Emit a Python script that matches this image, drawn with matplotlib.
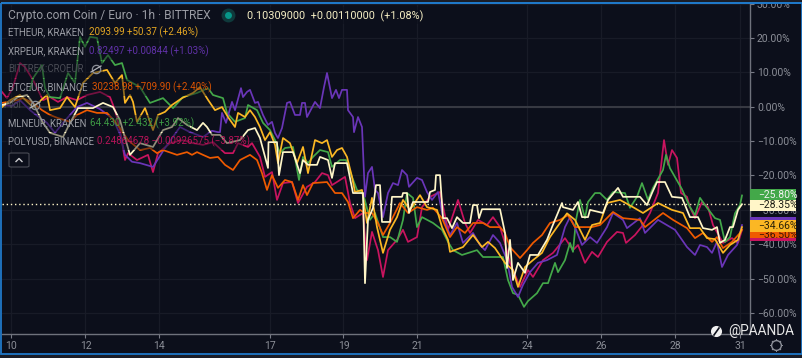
import matplotlib
matplotlib.use('Agg')
import matplotlib.pyplot as plt
from matplotlib.patches import Rectangle, FancyBboxPatch
from matplotlib.lines import Line2D

plt.rcParams['font.family'] = ['Roboto', 'DejaVu Sans']

# (bar position on the time axis, % change)
xrp = [(2,0.5),(12,0.2),(20,1.9),(30,-1.0),(40,-3.3),(47,-4.7),(55,-7.6),(63,-4.7),(77,-0.1),(87,1.1),(100,-0.7),(113,-3.5),(120,-8),(125,-14.0),(132,-16),(140,-16.4),(153,-17.5),(165,-12),(180,-5.9),(190,-7.4),(203,-8.8),(212,-7),(218,-7.4),
       (220,-7.4),(222,-1.8),(226,-4.7),(232,1.4),(235,-1.0),(241,5.4),(243,2.8),(247,4.3),(250,4.9),(255,1.1),(258,1.4),(263,-2.4),(268,-5.3),(272,-4.4),(275,-7.6),(278,-9.1),(282,-6.2),(287,1.1),(290,1.4),(295,-2.4),(300,-2.4),(302,1.1),(305,1.1),(307,-3.0),(315,1.4),(320,-0.4),(324,5.7),(327,9.8),(332,2.5),(336,4.9),(339,2.5),(342,4.9),(347,4.9),(348,-1.0),(353,-3.0),(354,-7.4),(358,-3.0),(362,-5.9),
       (365,-26.2),(368,-19.3),(372,-17.5),(375,-24.2),(378,-25.1),(383,-32.1),(388,-25.1),(393,-22.2),(398,-22.8),(402,-18.4),(407,-19.9),(409,-23.3),(417,-20.7),(422,-21.3),(427,-24.8),(432,-27.1),(438,-24.8),(443,-32.1),(450,-37.3),(457,-33.8),(463,-39.6),(473,-36.7),(480,-40.2),(485,-41.7),(493,-37.3),(500,-39.6),(507,-44.6),(512,-52.4),(518,-55.3),(523,-51.8),(530,-48.1),(538,-45.4),(547,-44.6),(557,-43.1),(565,-35.0),(570,-32.1),(575,-35.0),(582,-40.2),(590,-37.9),(597,-39.6),(607,-35.0),(613,-30.9),(623,-32.9),(627,-35.3),(640,-32.4),(645,-36.7),(658,-32.9),(675,-35.8),(687,-40.8),(695,-43.1),(700,-40.2),(707,-40.8),(712,-42.5),(717,-39.3),(722,-46.6),(728,-43.1),(737,-40.2),(742,-34.4)]

btc = [(2,1.1),(17,1.9),(23,2.5),(33,1.1),(42,-1.0),(50,-2.4),(58,-3.3),(70,-4.4),(77,-2.4),(87,-1.0),(97,-1.8),(107,-1.8),(115,-4.4),(120,-6.2),(128,-9.7),(140,-12.6),(150,-12),(157,-13.5),(163,-12.6),(177,-14),(187,-13.2),(192,-14),(197,-13.2),(203,-14),(210,-14.9),(218,-14.6),(225,-16.9),(233,-18.4),(240,-15.5),(250,-14),(257,-15.5),(262,-19.3),(267,-24.2),(272,-19.9),(278,-23.6),(285,-21.3),(292,-21.9),(298,-27.1),(303,-22.8),(307,-25.7),(313,-22.2),(327,-21.9),(335,-25.1),(342,-25.1),(348,-27.7),(353,-32.4),(360,-30),(365,-30.9),(372,-30.9),(378,-33.8),(383,-37.3),(390,-33.8),(400,-28),(408,-30.9),(417,-29.2),(427,-30),(433,-29.4),(442,-32.4),(450,-37.9),(457,-35),(465,-36.7),(473,-33.8),(483,-33.8),(490,-35),(500,-35),(505,-36.7),(510,-40.8),(520,-44),(527,-41.7),(533,-39.6),(542,-37.3),(550,-33.8),(560,-32.9),(568,-31.5),(575,-35),(585,-35),(592,-35),(600,-34.4),(613,-30.6),(623,-32.4),(640,-32.9),(645,-35),(663,-30.9),(673,-32.9),(687,-35.3),(695,-38.2),(703,-36.7),(712,-39.3),(717,-37.9),(723,-41.1),(732,-39.3),(740,-36.7),(742,-35.8)]

eth = [(2,-0.1),(10,1.9),(20,3.4),(33,-0.1),(47,3.4),(50,-1.0),(60,-0.4),(67,2.8),(75,-0.1),(83,6.9),(93,9.8),(107,10.7),(115,6.9),(122,9.2),(125,1.1),(130,3.4),(133,1.4),(137,-4.4),(145,-0.4),(153,-6.8),(158,-2.4),(165,-1.5),(172,0.5),(182,2.5),(193,4.0),(200,5.7),(208,2.0),(215,-1.0),(222,-0.1),(228,-3.0),(235,-5.9),(238,-1.8),(245,-3.0),(250,-1.0),(255,-3.0),(260,-5.9),(265,-9.7),(270,-7.4),(275,-11.1),(278,-16.4),(283,-9.1),(290,-10.6),(297,-16.4),(303,-11.7),(308,-19.3),(315,-9.7),(322,-10.6),(327,-9.7),(332,-14.6),(337,-12.6),(342,-12.0),(347,-14.6),(352,-20.4),(355,-24.8),(362,-24.2),(367,-33.8),(372,-26.5),(377,-35.0),(383,-42.5),(390,-35.8),(397,-32.1),(403,-27.1),(410,-30.0),(420,-25.7),(427,-29.2),(437,-30.0),(442,-35.0),(448,-38.7),(450,-42.2),(463,-40.8),(473,-37.3),(482,-40.8),(488,-39.3),(495,-41.1),(505,-45.4),(513,-47.5),(518,-52.4),(525,-46.6),(533,-44.6),(542,-42.5),(550,-37.9),(557,-35.0),(567,-31.0),(575,-32.9),(585,-38.7),(592,-34.4),(600,-33.8),(607,-28.0),(620,-27.1),(633,-29.2),(643,-30.9),(658,-28.0),(672,-30.0),(683,-30.9),(690,-35.3),(700,-35.3),(707,-38.2),(715,-38.5),(723,-42.5),(730,-40.2),(738,-38.7),(742,-35.0)]

mln = [(30,4.9),(33,8.3),(42,12.1),(45,5.4),(50,2.8),(60,2.5),(68,9.8),(75,6.9),(80,20.3),(85,17.4),(90,20.3),(97,20.0),(102,12.7),(108,15.0),(115,12.1),(122,12.7),(127,7.8),(140,5.7),(150,1.1),(163,2.5),(173,-0.4),(183,2.8),(197,4.0),(208,5.4),(213,3.4),(223,2.5),(227,-1.8),(235,-4.4),(245,-3.3),(248,0.5),(257,-1.0),(263,-4.7),(270,-6.8),(275,-9.7),(280,-13.5),(285,-12.0),(293,-11.7),(299,-21.3),(303,-14.6),(308,-16.4),(313,-14.6),(320,-12.6),(328,-13.2),(332,-17.5),(340,-15.5),(346,-15.5),(352,-20.4),(357,-24.2),(363,-25.1),(370,-32.9),(375,-30.9),(383,-37.9),(390,-37.9),(397,-39.3),(403,-32.9),(407,-25.1),(413,-26.5),(417,-35.0),(422,-32.1),(433,-33.8),(442,-35.8),(448,-39.3),(453,-41.7),(462,-43.1),(477,-41.7),(483,-43.7),(493,-43.7),(503,-43.7),(508,-50.4),(513,-54.2),(518,-54.7),(524,-58.2),(528,-56.5),(537,-54.2),(543,-51.3),(548,-51.3),(555,-45.4),(558,-48.1),(565,-44.6),(570,-39.6),(573,-42.2),(576,-32.9),(580,-27.1),(585,-32.4),(588,-27.7),(595,-25.1),(600,-25.1),(607,-27.1),(613,-24.8),(625,-25.1),(630,-29.4),(637,-26.2),(642,-22.2),(648,-27.1),(653,-23.6),(663,-18.4),(666,-14.0),(670,-17.9),(682,-24.0),(690,-29.2),(695,-31.5),(700,-26.5),(705,-28.6),(715,-32.4),(720,-32.9),(725,-39.3),(730,-37.9),(735,-31.0),(740,-28.6),(742,-25.8)]

poly = [(2,4.3),(7,2.5),(13,5.7),(20,12.7),(25,11.5),(33,7.8),(43,1.9),(50,2.8),(58,1.4),(67,2.8),(77,1.9),(87,3.4),(100,4.3),(110,2.8),(115,-1.0),(120,-6.8),(125,-15.5),(128,-13.5),(137,-15.5),(148,-14.0),(153,-19.0),(158,-13.5),(170,-10.6),(183,-9.7),(193,-10.6),(203,-11.1),(213,-10.3),(225,-13.5),(233,-13.5),(238,-10.6),(248,-11.7),(252,-10.6),(260,-14.6),(265,-20.4),(272,-19.0),(277,-27.1),(283,-22.2),(292,-21.9),(298,-28.0),(307,-23.3),(315,-21.9),(322,-19.3),(328,-19.9),(332,-22.8),(345,-20.4),(350,-28.0),(355,-32.4),(363,-30.9),(367,-44.6),(372,-36.4),(378,-41.7),(383,-49.5),(388,-41.7),(397,-38.7),(403,-35.8),(408,-39.3),(417,-37.9),(422,-29.2),(430,-26.2),(440,-24.8),(448,-35.8),(458,-27.1),(465,-33.8),(470,-36.7),(478,-32.9),(487,-34.4),(493,-32.1),(500,-35.0),(505,-39.6),(510,-45.4),(520,-52.4),(528,-47.5),(533,-49.5),(543,-44.6),(553,-42.5),(565,-38.2),(573,-41.7),(578,-40.2),(585,-45.4),(592,-42.2),(598,-43.7),(607,-39.3),(617,-36.4),(623,-36.7),(626,-39.6),(635,-37.3),(643,-34.4),(650,-30.9),(658,-25.1),(664,-9.7),(668,-16.9),(672,-12.6),(677,-14.9),(681,-25.1),(687,-26.2),(690,-29.2),(695,-32.4),(702,-27.7),(708,-29.2),(713,-34.4),(723,-39.6),(732,-38.2),(738,-39.6),(742,-35.8)]

cro = [(2,0.5),(10,1.1),(18,2.8),(27,3.4),(33,1.1),(43,-4.7),(50,-7.6),(63,-8.8),(68,-5.9),(78,-0.4),(93,-0.4),(103,1.1),(113,-0.1),(120,-3.9),(124,-8),(130,-14),(140,-10.6),(153,-11.7),(163,-6.8),(172,-5.9),(178,-3.3),(187,-5.3),(197,-6.8),(203,-4.7),(207,-5.9),(212,-8.2),(220,-8.2),(227,-10.6),(240,-9.7),(248,-6.8),(255,-6.2),(260,-9.1),(268,-17.8),(268.5,-10.3),(277,-10.3),(279,-19.9),(283,-13.2),(293,-13.2),(300,-19.3),(303,-15.5),(308,-16.9),(317,-16.9),(320,-14.6),(328,-15.5),(332,-20.7),(335,-16.4),(347,-16.4),(353,-25.1),(363,-25.1),(365,-51.3),(368,-32.9),(373,-29.4),(376,-22.8),(380,-22.8),(382,-33.5),(390,-33.5),(392,-26.2),(402,-26.2),(403,-25.1),(407,-25.1),(409,-30.9),(413,-27.7),(428,-27.7),(430,-24.8),(435,-24.2),(436,-19.9),(440,-19.9),(443,-32.4),(447,-32.4),(452,-35.3),(457,-32.1),(463,-33.8),(470,-33.8),(473,-28.6),(477,-28.6),(479,-32.4),(482,-29.8),(500,-29.8),(505,-36.7),(507,-46.9),(510,-38.7),(513,-50.4),(518,-45.4),(525,-48.3),(530,-43.1),(538,-43.1),(547,-38.7),(552,-35.0),(562,-28.0),(563,-29.2),(573,-30.0),(578,-27.7),(582,-32.1),(588,-32.1),(590,-30.0),(603,-30.9),(608,-27.1),(618,-23.6),(623,-26.2),(640,-26.2),(647,-28.6),(652,-25.1),(657,-21.9),(665,-21.9),(672,-26.2),(682,-26.5),(690,-32.1),(698,-32.1),(703,-35.3),(712,-35.8),(717,-35.0),(720,-39.6),(725,-38.7),(730,-35.0),(733,-35.0),(738,-30.0),(742,-28.35)]

x_tick_pos = [11.5,85.5,159.5,270,343.5,417,527,601,675,740]
x_tick_labels = ['10','12','14','17','19','21','24','26','28','31']
y_ticks = [30,20,10,0,-10,-20,-30,-40,-50,-60]

legend_names = ['ETHEUR, KRAKEN','XRPEUR, KRAKEN','BITTREX:CROEUR','BTCEUR, BINANCE','MLNEUR, KRAKEN','POLYUSD, BINANCE']
legend_vals = ['2093.99 +50.37 (+2.46%)','0.82497 +0.00844 (+1.03%)','','30238.98 +709.90 (+2.40%)','64.430 +2.432 (+3.92%)','0.24864678 \u22120.00926575 (\u22123.87%)']

GREEN = '#43a849'
PURPLE = '#6a35b8'
YELLOW = '#fbb724'
ORANGE = '#ef5a00'
PINK = '#c9145f'
CREAM = '#fff6c8'
BG = '#0c0f1b'
TXT = '#8b8e97'
W, H = 803, 358

fig = plt.figure(figsize=(8.03, 3.58), dpi=100, facecolor='#1a1d27')


def fx(px):
    return px / W


def fy(py):
    return 1 - py / H


def dot(px, py, size, fc, ec='none', lw=0, z=12, marker='o'):
    fig.add_artist(Line2D([fx(px)], [fy(py)], marker=marker, ms=size, mfc=fc, mec=ec, mew=lw, ls='none',
                          transform=fig.transFigure, zorder=z))


def box(left, top, right, bottom, col, z, alpha=1.0):
    fig.add_artist(Rectangle((fx(left), fy(bottom)), (right - left) / W, (bottom - top) / H,
                             transform=fig.transFigure, fc=col, ec='none', alpha=alpha, zorder=z))


# background panel with the blue frame
fig.add_artist(Rectangle((fx(1), fy(354)), 801 / W, 351 / H, transform=fig.transFigure,
                         fc=BG, ec='#1f78c8', lw=1.3, zorder=0))

ax = fig.add_axes([fx(2), fy(334), 748 / W, 331 / H], facecolor=BG)
ax.set_xlim(2, 750)
ax.set_ylim(-66.08, 30.15)
ax.grid(True, color='#181b27', lw=0.9)
ax.set_axisbelow(True)
ax.axhline(0, color='#373942', lw=1.5, zorder=1)
ax.axhline(-28.35, color=CREAM, lw=1, dashes=(1, 2), zorder=2)

for z, (series, col) in enumerate([(poly, PINK), (mln, GREEN), (xrp, PURPLE), (btc, ORANGE), (eth, YELLOW), (cro, CREAM)]):
    xs, ys = zip(*series)
    ax.plot(xs, ys, color=col, lw=1.25, zorder=3 + z)

ax.set_xticks(x_tick_pos)
ax.set_xticklabels(x_tick_labels)
ax.set_yticks(y_ticks)
ax.set_yticklabels([f'{v:.2f}%'.replace('-', '\u2212') for v in y_ticks])
ax.yaxis.tick_right()
ax.tick_params(axis='both', labelcolor=TXT, labelsize=7.5, length=3, width=0.8, pad=2, color='#787b86')
for s in ['top', 'left']:
    ax.spines[s].set_visible(False)
for s in ['right', 'bottom']:
    ax.spines[s].set_color('#6f727c')
    ax.spines[s].set_linewidth(1)

# covers the half of the 30% label above the frame
box(0, 0, 803, 3, '#1a1d27', 9)
box(1, 2.5, 802, 3.5, '#1f78c8', 9)

# last value tags, lowest first; later tags cover the text of earlier ones
last_tags = [(232, 241, PINK, None, None, None),
             (217, 238, PURPLE, None, None, None),
             (232, 238, ORANGE, 235.5, '\u221236.50%', '#3a1405'),
             (220, 232, YELLOW, 226, '\u221234.66%', '#2a2208'),
             (189, 200, GREEN, 195, '\u221225.80%', '#f2f2f2'),
             (200, 211, CREAM, 205.5, '\u221228.35%', '#1c1c14')]
for i, (top, bottom, col, py, label, tcol) in enumerate(last_tags):
    box(750, top, 796, bottom, col, 10 + i * 0.1)
    if label:
        fig.text(fx(758), fy(py), label, color=tcol, fontsize=7.5, va='center', zorder=10.05 + i * 0.1)

# rows of the legend dim the lines below them
for top, bottom, right in [(7, 24, 424), (24, 41, 197), (43, 60, 206), (61, 78, 103), (79, 96, 210), (97, 114, 40), (115, 132, 190), (133, 150, 243)]:
    box(6, top, right, bottom, BG, 11, alpha=0.45)

# header
fig.text(fx(8), fy(15), 'Crypto.com Coin / Euro \u00b7 1h \u00b7 BITTREX', color='#9a9ca4', fontsize=8.65, va='center', zorder=12)
dot(228, 15, 10, '#0f3a3c')
dot(228, 15, 5, '#079688', z=13)
fig.text(fx(247), fy(16), '0.10309000  +0.00110000  (+1.08%)', color='#f5eec4', fontsize=7.8, va='center', zorder=12)

# legend rows
rows_y = [32, 51, 69, 87, 123, 141]
vals_x = [89, 89, 0, 92, 90, 97]
val_cols = [YELLOW, PURPLE, '', ORANGE, GREEN, PINK]
for i, name in enumerate(legend_names):
    col = '#9a9ca4' if i != 2 else '#4a4c55'
    fig.text(fx(8), fy(rows_y[i]), name, color=col, fontsize=6.9, va='center', zorder=12)
    if legend_vals[i]:
        fig.text(fx(vals_x[i]), fy(rows_y[i]), legend_vals[i], color=val_cols[i], fontsize=7.05, va='center', zorder=12, alpha=0.9)
fig.text(fx(8), fy(105), 'Vol', color='#4a4c55', fontsize=6.9, va='center', zorder=12)

# hidden-series eye icons
for ex, ey in [(96, 69), (35, 105)]:
    dot(ex, ey, 6, 'none', ec='#8b8e97', lw=0.9)
    fig.add_artist(Line2D([fx(ex - 5), fx(ex + 5)], [fy(ey + 3), fy(ey - 3)], color='#b0b2b8', lw=0.9, zorder=12))

# collapse button
fig.add_artist(FancyBboxPatch((fx(9), fy(167)), 20 / W, 14 / H, transform=fig.transFigure,
                              boxstyle='round,pad=0,rounding_size=0.003', fc=BG, ec='#4a4c55', lw=0.8, zorder=12))
fig.add_artist(Line2D([fx(16), fx(19), fx(22)], [fy(161.5), fy(158.5), fy(161.5)], color='#c8c9cd', lw=1, zorder=13))

# watermark
dot(716, 331, 8, '#f0f0f0')
fig.add_artist(Line2D([fx(714), fx(719)], [fy(335), fy(328)], color=BG, lw=1.2, transform=fig.transFigure, zorder=13))
fig.text(fx(728), fy(331), '@PAANDA', color='#e6e6e6', fontsize=9.8, va='center', zorder=12)

# settings icon
dot(776, 345, 9, 'none', ec='#8b8e97', lw=0.7, marker=(8, 2, 0))
dot(776, 345, 7, BG, ec='#8b8e97', lw=1, z=13)

fig.savefig('out.png', dpi=100, facecolor=fig.get_facecolor())
